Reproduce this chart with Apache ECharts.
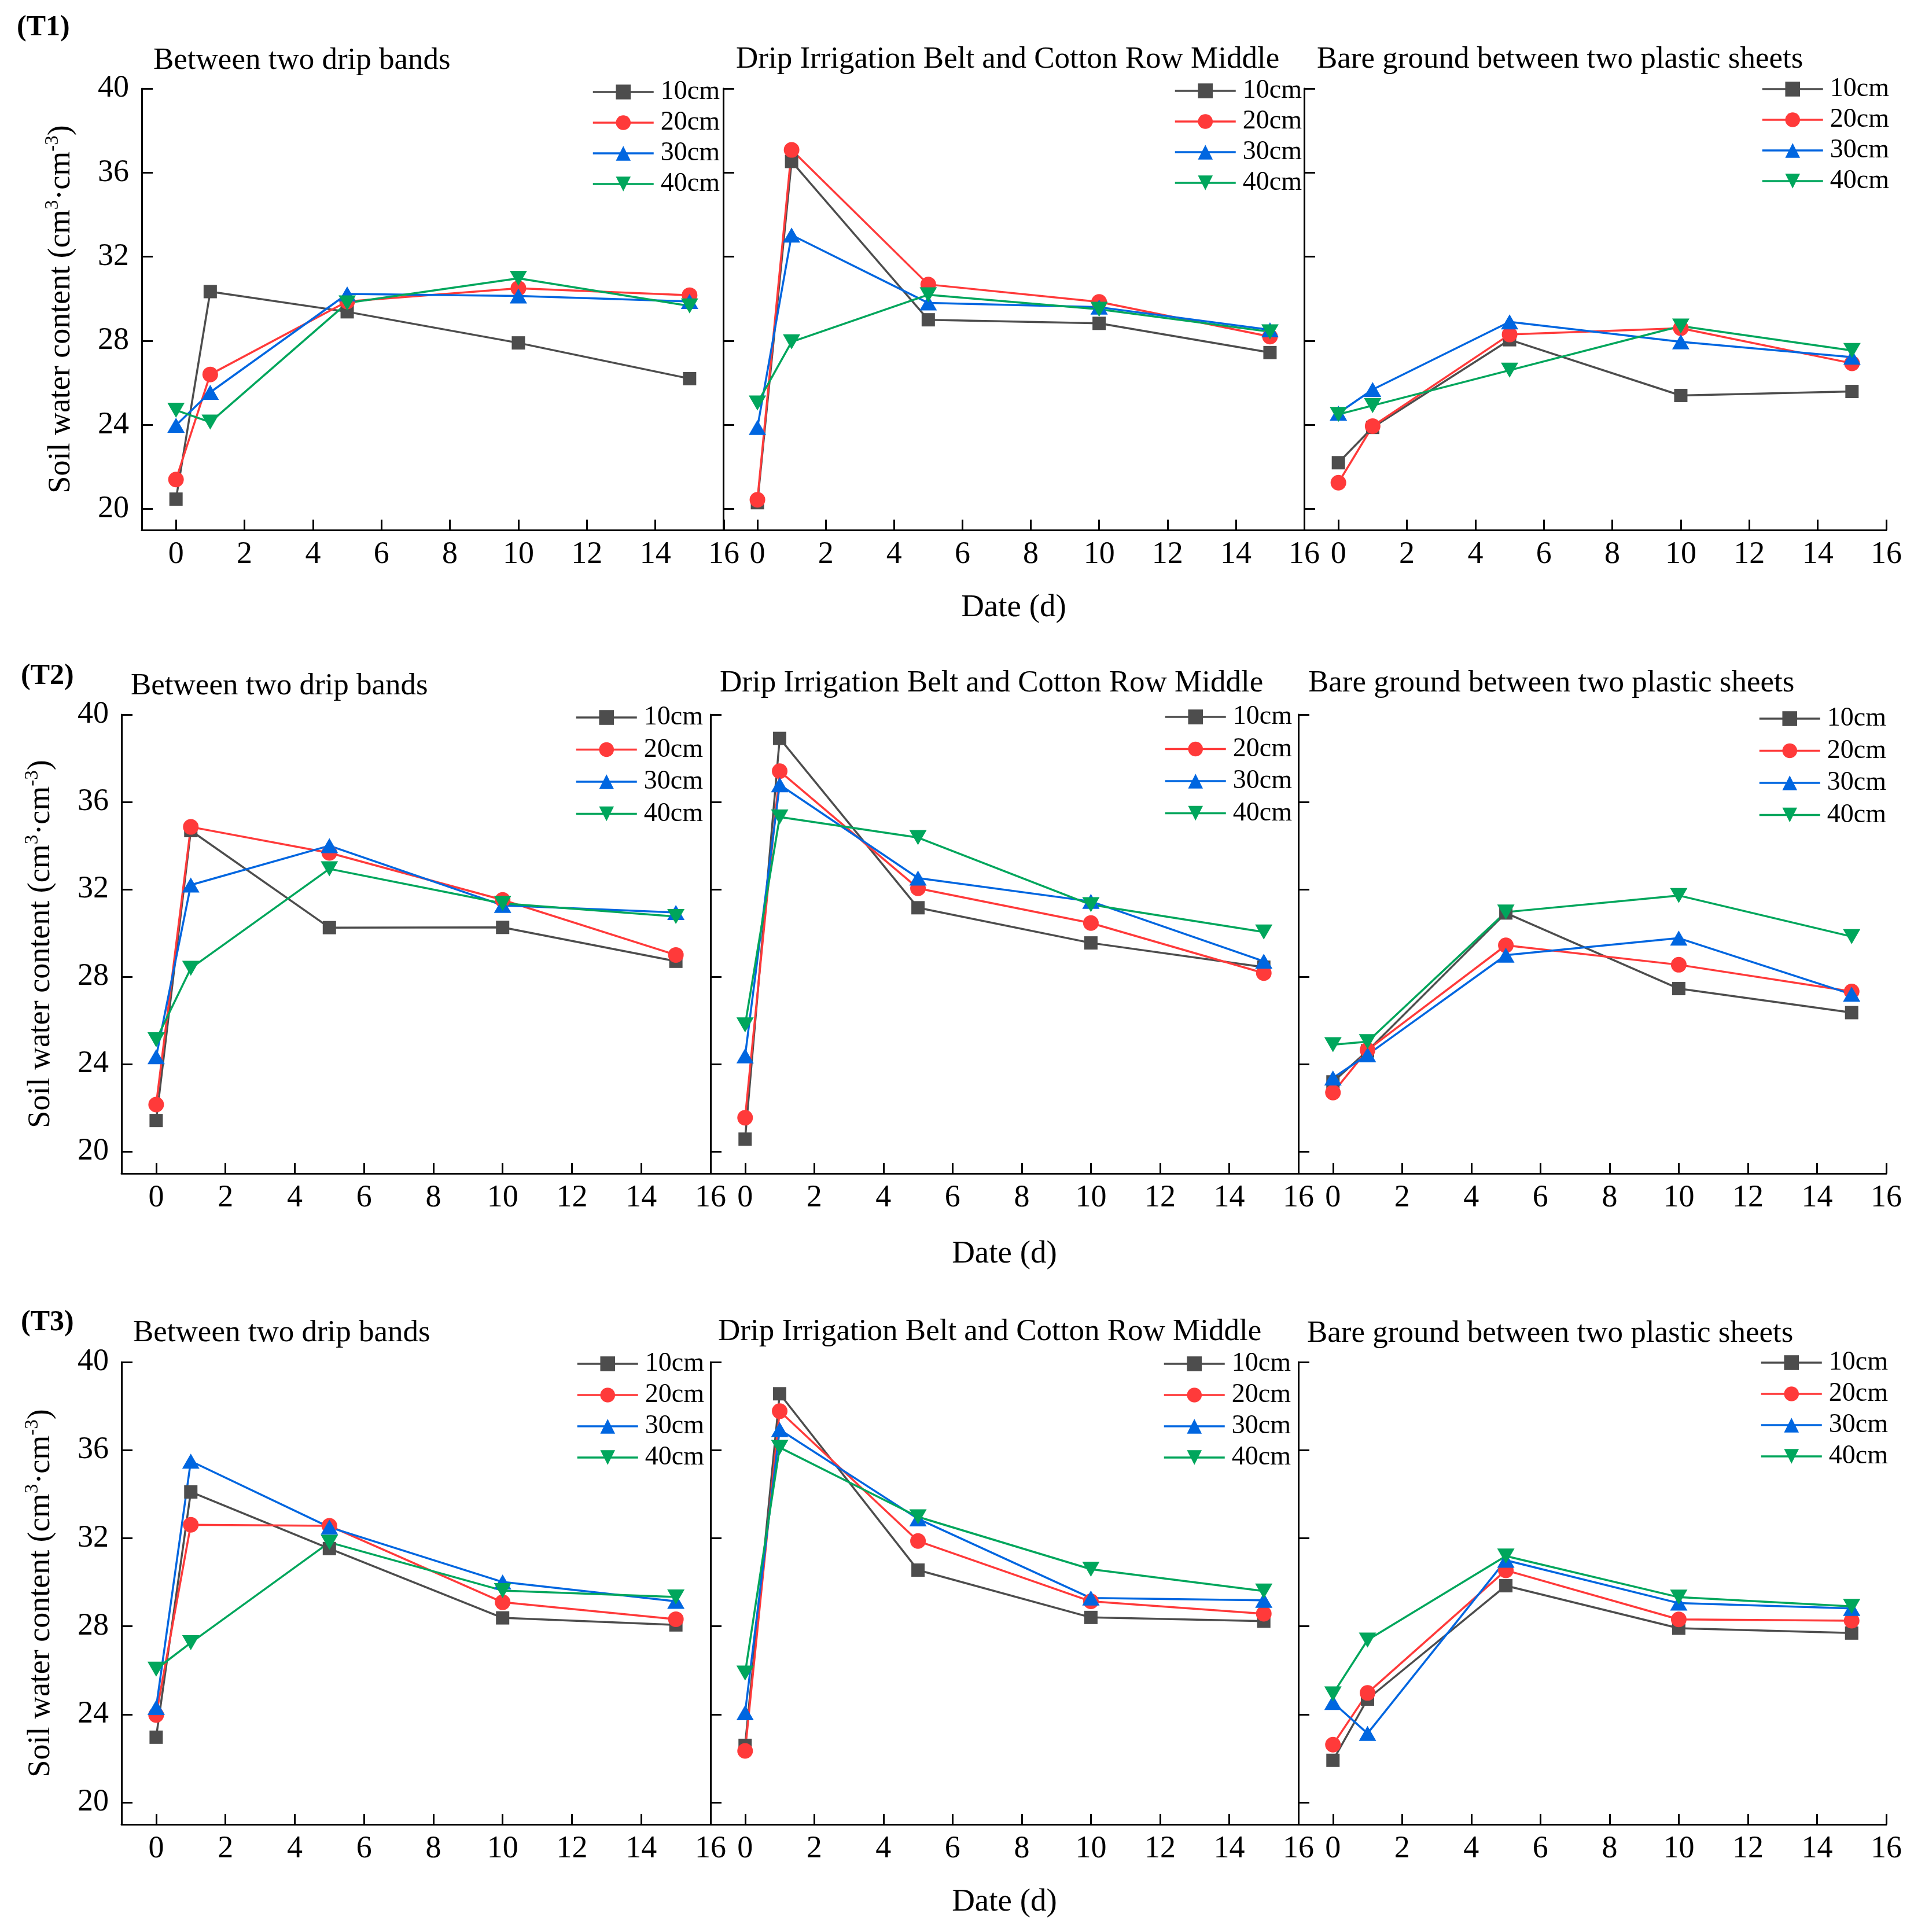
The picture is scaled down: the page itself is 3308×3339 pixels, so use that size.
<!DOCTYPE html>
<html><head><meta charset="utf-8">
<script src="https://cdn.jsdelivr.net/npm/echarts@6/dist/echarts.min.js"></script>
<style>html,body{margin:0;padding:0;background:#fff}#c{width:3308px;height:3339px}</style>
</head><body><div id="c"></div>
<script>
// ---------- data ----------
const days = [0, 1, 5, 10, 15];
const depths = ['10cm', '20cm', '30cm', '40cm'];
const xTicks = [0, 2, 4, 6, 8, 10, 12, 14, 16];
const yTicks = [20, 24, 28, 32, 36, 40];
const treatments = ['(T1)', '(T2)', '(T3)'];
const positions = ['Between two drip bands', 'Drip Irrigation Belt and Cotton Row Middle', 'Bare ground between two plastic sheets'];
const xAxisName = 'Date (d)';

// each panel: rows = 10cm, 20cm, 30cm, 40cm ; columns = days
const T1_between = [
  [20.47, 30.34, 29.38, 27.90, 26.20],
  [21.40, 26.40, 29.87, 30.50, 30.17],
  [23.98, 25.55, 30.23, 30.13, 29.87],
  [24.70, 24.13, 29.80, 30.97, 29.66]
];
const T1_middle = [
  [20.30, 36.53, 29.00, 28.83, 27.44],
  [20.44, 37.08, 30.68, 29.85, 28.20],
  [23.88, 33.03, 29.80, 29.60, 28.52],
  [25.04, 27.95, 30.19, 29.50, 28.43]
];
const T1_bare = [
  [22.20, 23.88, 28.05, 25.40, 25.59],
  [21.25, 23.94, 28.30, 28.60, 26.93],
  [24.56, 25.68, 28.90, 27.95, 27.22],
  [24.50, 24.92, 26.60, 28.70, 27.54]
];
const T2_between = [
  [21.42, 34.69, 30.25, 30.26, 28.71],
  [22.15, 34.86, 33.67, 31.52, 29.00],
  [24.34, 32.20, 34.00, 31.27, 30.94],
  [25.12, 28.39, 32.94, 31.36, 30.76]
];
const T2_middle = [
  [20.57, 38.91, 31.16, 29.55, 28.44],
  [21.55, 37.41, 32.05, 30.46, 28.17],
  [24.38, 36.79, 32.52, 31.45, 28.71],
  [25.80, 35.31, 34.37, 31.30, 30.05]
];
const T2_bare = [
  [23.19, 24.61, 30.92, 27.46, 26.36],
  [22.70, 24.65, 29.44, 28.55, 27.33],
  [23.37, 24.43, 28.99, 29.77, 27.20],
  [24.89, 25.03, 30.96, 31.72, 29.84]
];
const T3_between = [
  [22.96, 34.10, 31.53, 28.38, 28.06],
  [23.97, 32.61, 32.56, 29.09, 28.32],
  [24.31, 35.50, 32.50, 30.01, 29.13],
  [26.05, 27.25, 31.81, 29.62, 29.33]
];
const T3_middle = [
  [22.59, 38.56, 30.55, 28.40, 28.23],
  [22.34, 37.77, 31.87, 29.13, 28.57],
  [24.07, 36.93, 32.88, 29.28, 29.18],
  [25.87, 36.12, 32.97, 30.59, 29.60]
];
const T3_bare = [
  [21.91, 24.69, 29.84, 27.91, 27.69],
  [22.62, 24.97, 30.54, 28.31, 28.25],
  [24.54, 23.13, 31.00, 29.05, 28.81],
  [24.93, 27.37, 31.19, 29.32, 28.90]
];
const panelData = [
  [T1_between, T1_middle, T1_bare],
  [T2_between, T2_middle, T2_bare],
  [T3_between, T3_middle, T3_bare]
];

// ---------- layout & style ----------
const FONT = "'Liberation Serif','Times New Roman',serif";
const colors = ['#4d4d4d', '#ff3a3a', '#0066e0', '#00a65c'];
const symbols = ['rect', 'circle', 'triangle', 'path://M0,0L10,0L5,8.66Z'];
const symbolSizes = [23, 27, [30, 26], [30, 26]];
const rows = [
  {top:153, bottom:916, xs:[[245,1251],[1250,2254],[2254,3260]], titleTop:[79,77,77], titleLeft:[265,1272,2276],
   tagLeft:29, tagTop:23, legLeft:[1023,2029,3044], legTop:[136,134,131], legGap:7, dateGap:107},
  {top:1235, bottom:2028, xs:[[210,1228],[1228,2244],[2244,3260]], titleTop:[1160,1155,1155], titleLeft:[226,1244,2261],
   tagLeft:36, tagTop:1144, legLeft:[994,2012,3039], legTop:[1217,1216,1219], legGap:9.5, dateGap:112},
  {top:2354, bottom:3153, xs:[[210,1228],[1228,2244],[2244,3260]], titleTop:[2278,2276,2279], titleLeft:[230,1241,2259],
   tagLeft:36, tagTop:2261, legLeft:[996,2010,3042], legTop:[2334,2334,2332], legGap:8, dateGap:107}
];

const option = {
  animation: false,
  backgroundColor: '#ffffff',
  title: [], grid: [], xAxis: [], yAxis: [], legend: [], series: []
};

rows.forEach((r, ri) => {
  option.title.push({
    text: treatments[ri], left: r.tagLeft, top: r.tagTop, padding: 0,
    textStyle: {fontFamily: FONT, fontSize: 50, fontWeight: 'bold', color: '#000'}
  });
  for (let c = 0; c < 3; c++) {
    const gi = ri * 3 + c;
    option.title.push({
      text: positions[c], left: r.titleLeft[c], top: r.titleTop[c], padding: 0,
      textStyle: {fontFamily: FONT, fontSize: 53, fontWeight: 'normal', color: '#000'}
    });
    option.grid.push({
      left: r.xs[c][0], width: r.xs[c][1] - r.xs[c][0], top: r.top, height: r.bottom - r.top,
      containLabel: false, outerBoundsMode: 'none'
    });
    option.xAxis.push({
      gridIndex: gi, type: 'value', min: -1, max: 16,
      name: c === 1 ? xAxisName : '', nameLocation: 'middle', nameGap: r.dateGap,
      nameTextStyle: {fontFamily: FONT, fontSize: 55, color: '#000'},
      axisLine: {show: true, onZero: false, lineStyle: {color: '#000', width: 3}},
      axisTick: {show: true, inside: true, length: 18, customValues: xTicks, lineStyle: {color: '#000', width: 3}},
      axisLabel: {show: true, customValues: xTicks, fontFamily: FONT, fontSize: 54, color: '#000', margin: 16},
      splitLine: {show: false}
    });
    option.yAxis.push({
      gridIndex: gi, type: 'value', min: 19, max: 40,
      name: c === 0 ? '{a|Soil water content (cm}{s|3}{a|·cm}{s|-3}{a|)}' : '',
      nameLocation: 'middle', nameGap: 108,
      nameTextStyle: {
        color: '#000',
        rich: {
          a: {fontFamily: FONT, fontSize: 54, color: '#000', lineHeight: 62, verticalAlign: 'middle'},
          s: {fontFamily: FONT, fontSize: 33, color: '#000', lineHeight: 36, verticalAlign: 'top'}
        }
      },
      axisLine: {show: true, onZero: false, lineStyle: {color: '#000', width: 3}},
      axisTick: {show: true, inside: true, length: 19, customValues: yTicks, lineStyle: {color: '#000', width: 3}},
      axisLabel: {show: c === 0, customValues: yTicks, fontFamily: FONT, fontSize: 54, color: '#000', margin: 22},
      splitLine: {show: false}
    });
    option.legend.push({
      orient: 'vertical', left: r.legLeft[c], top: r.legTop[c], padding: 0,
      itemWidth: 105, itemHeight: 32, itemGap: r.legGap,
      data: depths.slice(),
      lineStyle: {width: 3.5},
      textStyle: {fontFamily: FONT, fontSize: 46, color: '#000', padding: [0, 0, 0, 7]}
    });
    const vals = panelData[ri][c];
    depths.forEach((d, k) => {
      option.series.push({
        type: 'line', name: d, xAxisIndex: gi, yAxisIndex: gi,
        data: days.map((day, j) => [day, vals[k][j]]),
        symbol: symbols[k], symbolSize: symbolSizes[k],
        color: colors[k],
        itemStyle: {color: colors[k]},
        lineStyle: {color: colors[k], width: 3.5},
        emphasis: {disabled: true}
      });
    });
  }
});

const chart = echarts.init(document.getElementById('c'), null, {renderer: 'canvas', width: 3308, height: 3339, devicePixelRatio: 1});
chart.setOption(option);
</script>
</body></html>
